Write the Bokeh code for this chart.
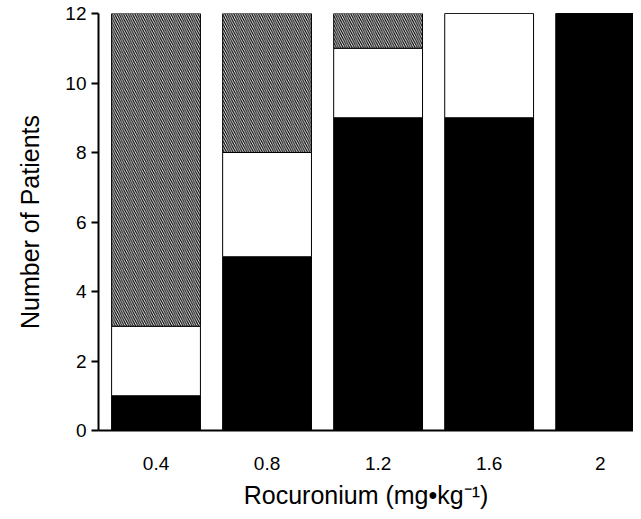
from bokeh.plotting import figure
from bokeh.models import Range1d, FixedTicker, ColumnDataSource
from bokeh.embed import file_html
from bokeh.resources import INLINE

doses = ["0.4", "0.8", "1.2", "1.6", "2"]
black_counts = [1, 5, 9, 9, 12]
white_counts = [2, 3, 2, 3, 0]
hatched_counts = [9, 4, 1, 0, 0]
y_ticks = [0, 2, 4, 6, 8, 10, 12]

xpos = list(range(len(doses)))
b_top = black_counts
w_top = [b + w for b, w in zip(black_counts, white_counts)]
h_top = [w + h for w, h in zip(w_top, hatched_counts)]

src = ColumnDataSource(dict(x=xpos, b0=[0] * len(xpos), b1=b_top, w1=w_top, h1=h_top))

FONT = "Liberation Sans"

p = figure(width=633, height=511, output_backend="svg", toolbar_location=None,
           x_range=Range1d(-0.518, 4.30), y_range=Range1d(0, 12))
p.min_border_left = 98
p.min_border_top = 13
p.min_border_right = 0
p.min_border_bottom = 76
p.outline_line_color = None
p.background_fill_color = "white"
p.border_fill_color = "white"
p.grid.visible = False

p.vbar(x="x", bottom="b0", top="b1", width=0.8, source=src,
       fill_color="black", line_color="black", line_width=1)
p.vbar(x="x", bottom="b1", top="w1", width=0.8, source=src,
       fill_color="white", line_color="black", line_width=1)
p.vbar(x="x", bottom="w1", top="h1", width=0.8, source=src,
       fill_color="white", line_color="black", line_width=1,
       hatch_pattern="left_diagonal_line", hatch_color="black",
       hatch_scale=4.5, hatch_weight=1.2)

p.xaxis.ticker = FixedTicker(ticks=xpos)
p.xaxis.major_label_overrides = {i: d for i, d in zip(xpos, doses)}
p.xaxis.major_tick_line_color = None
p.xaxis.minor_tick_line_color = None
p.xaxis.axis_line_width = 2
p.xaxis.major_label_standoff = 20
p.xaxis.axis_label = "Rocuronium (mg•kg⁻¹)"
p.xaxis.axis_label_standoff = 8

p.yaxis.ticker = FixedTicker(ticks=y_ticks)
p.yaxis.major_tick_out = 7
p.yaxis.major_tick_in = 0
p.yaxis.major_tick_line_width = 2
p.yaxis.minor_tick_line_color = None
p.yaxis.axis_line_width = 2
p.yaxis.major_label_standoff = 5
p.yaxis.axis_label = "Number of Patients"
p.yaxis.axis_label_standoff = 18

for ax in (p.xaxis, p.yaxis):
    ax.major_label_text_font = FONT
    ax.major_label_text_font_size = "19px"
    ax.major_label_text_color = "black"
    ax.axis_label_text_font = FONT
    ax.axis_label_text_font_size = "25px"
    ax.axis_label_text_font_style = "normal"
    ax.axis_label_text_color = "black"
    ax.axis_line_color = "black"
p.yaxis.major_tick_line_color = "black"

open("out.html", "w").write(file_html(p, INLINE))
